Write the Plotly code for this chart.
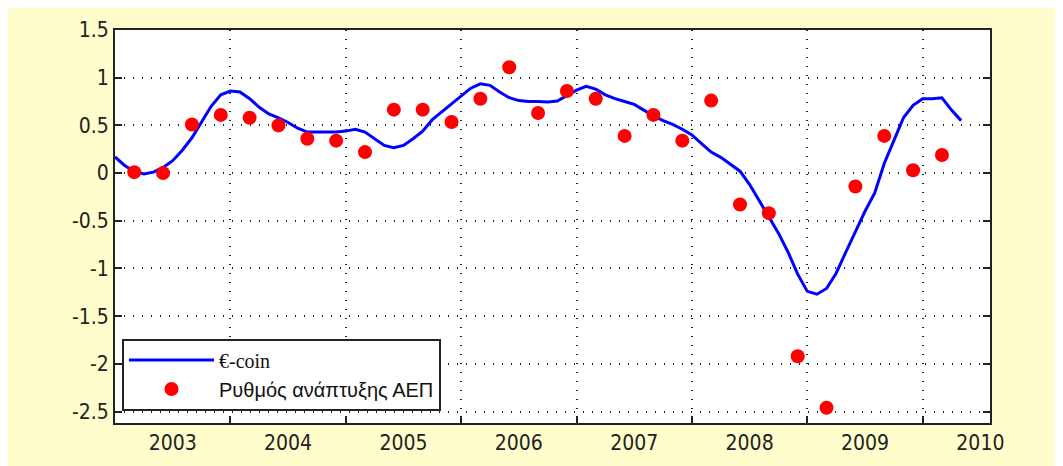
import plotly.graph_objects as go

# monthly €-coin indicator, first value = Dec 2002 (month index 0)
ecoin_start = (2002, 12)
ecoin = [0.17, 0.08, 0.02, -0.01, 0.01, 0.06, 0.13, 0.24, 0.37, 0.54,
         0.70, 0.82, 0.86, 0.85, 0.78, 0.69, 0.62, 0.58, 0.53, 0.47,
         0.43, 0.43, 0.43, 0.43, 0.44, 0.46, 0.43, 0.36, 0.29, 0.265,
         0.29, 0.36, 0.44, 0.56, 0.64, 0.73, 0.81, 0.89, 0.935, 0.92,
         0.85, 0.79, 0.76, 0.75, 0.75, 0.745, 0.755, 0.81, 0.87, 0.91,
         0.88, 0.82, 0.78, 0.75, 0.72, 0.66, 0.60, 0.55, 0.51, 0.46,
         0.40, 0.31, 0.22, 0.165, 0.09, 0.02, -0.12, -0.29, -0.46, -0.63,
         -0.83, -1.06, -1.24, -1.27, -1.21, -1.05, -0.83, -0.61, -0.40, -0.21,
         0.10, 0.34, 0.58, 0.71, 0.78, 0.78, 0.79, 0.66, 0.55]

# quarterly GDP growth, plotted at the middle month of each quarter
gdp_quarters = ["2003Q1", "2003Q2", "2003Q3", "2003Q4", "2004Q1", "2004Q2", "2004Q3", "2004Q4",
                "2005Q1", "2005Q2", "2005Q3", "2005Q4", "2006Q1", "2006Q2", "2006Q3", "2006Q4",
                "2007Q1", "2007Q2", "2007Q3", "2007Q4", "2008Q1", "2008Q2", "2008Q3", "2008Q4",
                "2009Q1", "2009Q2", "2009Q3", "2009Q4", "2010Q1"]
gdp = [0.01, 0.00, 0.51, 0.61, 0.58, 0.50, 0.36, 0.34,
       0.22, 0.665, 0.665, 0.535, 0.78, 1.11, 0.63, 0.86,
       0.78, 0.39, 0.61, 0.34, 0.76, -0.33, -0.42, -1.92,
       -2.46, -0.14, 0.39, 0.03, 0.19]

years = [2003, 2004, 2005, 2006, 2007, 2008, 2009, 2010]
yticks = [-2.5, -2, -1.5, -1, -0.5, 0, 0.5, 1, 1.5]


def month_index(year, month):
    return (year - ecoin_start[0]) * 12 + (month - ecoin_start[1])


ecoin_x = list(range(len(ecoin)))
gdp_x = [month_index(int(q[:4]), (int(q[5]) - 1) * 3 + 2) for q in gdp_quarters]
label_x = [month_index(y, 6) for y in years]          # year label mid-year
grid_x = [month_index(y, 12) for y in years[:-1]]     # grid at year end

tick_font = dict(family="Liberation Sans Narrow, DejaVu Sans Condensed, Liberation Sans",
                 size=21, color="#222")

fig = go.Figure()
fig.add_trace(go.Scatter(
    x=ecoin_x, y=ecoin, mode="lines",
    name="<span style='font-family:Liberation Serif'>€-coin</span>",
    line=dict(color="#0000ff", width=3)))
fig.add_trace(go.Scatter(
    x=gdp_x, y=gdp, mode="markers",
    name="Ρυθμός ανάπτυξης ΑΕΠ",
    marker=dict(color="#ff0000", size=14, line=dict(width=0))))

fig.update_xaxes(
    range=[0, 91], tickmode="array", tickvals=label_x, ticktext=[str(y) for y in years],
    ticks="", showgrid=False, zeroline=False,
    showline=True, linecolor="#222", linewidth=2, mirror=True,
    minor=dict(tickmode="array", tickvals=grid_x, ticks="inside", ticklen=7,
               tickcolor="#222", tickwidth=2, showgrid=True,
               gridcolor="#222", griddash="1px,8px", gridwidth=1.5),
    tickfont=tick_font)
fig.update_yaxes(
    range=[-2.62, 1.5], tickmode="array",
    tickvals=yticks, ticktext=[f"{v:g}" for v in yticks],
    ticks="inside", ticklen=7, tickcolor="#222", tickwidth=2,
    showgrid=True, gridcolor="#222", griddash="1px,8px", gridwidth=1.5,
    zeroline=False, showline=True, linecolor="#222", linewidth=2, mirror="ticks",
    tickfont=tick_font)

fig.update_layout(
    width=1055, height=458,
    paper_bgcolor="#fffdcc", plot_bgcolor="white",
    margin=dict(l=107, r=73, t=10, b=43),
    showlegend=True,
    legend=dict(x=0.008, y=0.215, xanchor="left", yanchor="top",
                bgcolor="white", bordercolor="#222", borderwidth=2,
                font=dict(family="Liberation Sans", size=20, color="#111"),
                itemwidth=85, tracegroupgap=0))

fig.write_html("out.html")
